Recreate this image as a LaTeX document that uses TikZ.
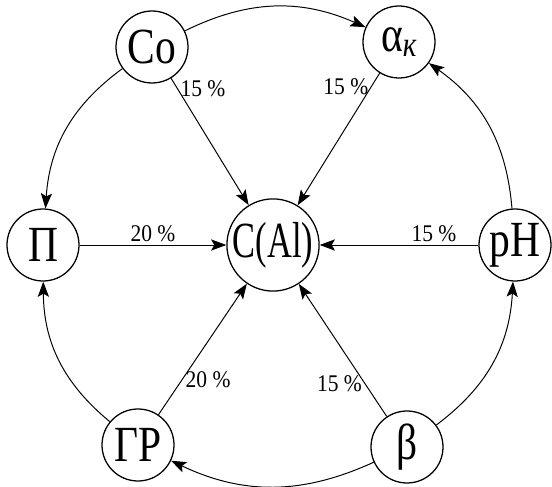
\documentclass[tikz,border=0pt]{standalone}
\usepackage{fontspec}
\setmainfont{Liberation Serif}
\usetikzlibrary{arrows.meta}
\newcommand{\narrow}[2][0.82]{\scalebox{#1}[1]{#2}}

\begin{document}
\begin{tikzpicture}[>={Stealth[length=3.8mm,width=2.8mm,inset=0.8mm]},
 circ/.style={draw,circle,minimum size=1.8cm,inner sep=0pt,line width=0.9pt,
 font=\fontsize{36}{36}\selectfont},
 pct/.style={inner sep=2pt,font=\fontsize{17}{17}\selectfont},
 link/.style={->,line width=0.7pt}]
\useasboundingbox (0,0) rectangle (13.8,12.15);
\node[circ,minimum size=1.95cm] (cal) at (6.825,6.025) {\narrow[0.68]{C(Al)}};
\node[circ] (co) at (3.8,10.975) {\narrow{Co}};
\node[circ] (ak) at (9.975,11.1) {\narrow{α\textsubscript{\itshape к}}};
\node[circ] (pi) at (1.075,6.025) {\narrow{П}};
\node[circ] (ph) at (12.875,6.025) {\narrow{pH}};
\node[circ] (gr) at (3.45,1.025) {\narrow{ГР}};
\node[circ] (be) at (10.175,0.975) {\narrow{β}};
% weights into C(Al)
\draw[link] (co)--node[pct,pos=0.08,right]{\narrow[0.9]{15 \%}} (cal);
\draw[link] (ak)--node[pct,pos=0.1,left]{\narrow[0.9]{15 \%}} (cal);
\draw[link] (pi)--node[pct,above]{\narrow[0.9]{20 \%}} (cal);
\draw[link] (ph)--node[pct,pos=0.28,above]{\narrow[0.9]{15 \%}} (cal);
\draw[link] (gr)--node[pct,pos=0.27,right]{\narrow[0.9]{20 \%}} (cal);
\draw[link] (be)--node[pct,pos=0.245,left]{\narrow[0.9]{15 \%}} (cal);
% outer ring
\draw[link] (co) to[bend left=25] (ak);
\draw[link] (ph) to[bend right=25] (ak);
\draw[link] (co) to[bend right=25] (pi);
\draw[link] (gr) to[bend left=25] (pi);
\draw[link] (be) to[bend left=25] (gr);
\draw[link] (be) to[bend right=25] (ph);
\end{tikzpicture}
\end{document}
